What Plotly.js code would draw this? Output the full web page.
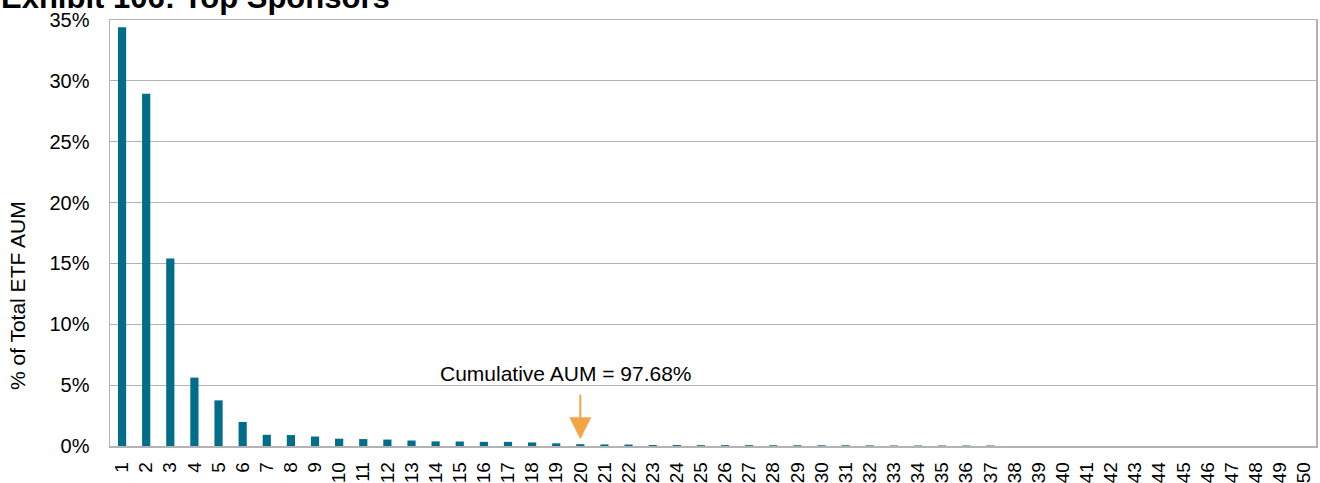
<!DOCTYPE html>
<html>
<head>
<meta charset="utf-8">
<script src="https://cdn.plot.ly/plotly-3.0.1.min.js"></script>
<style>html,body{margin:0;padding:0;background:#fff;}#chart{width:1320px;height:483px;}</style>
</head>
<body>
<div id="chart"></div>
<script>
const ranks = [1,2,3,4,5,6,7,8,9,10,11,12,13,14,15,16,17,18,19,20,21,22,23,24,25,26,27,28,29,30,31,32,33,34,35,36,37,38,39,40,41,42,43,44,45,46,47,48,49,50];
const tickLabels = ranks.map(String);
const sharePct = [34.4,28.95,15.4,5.62,3.75,1.97,0.92,0.9,0.78,0.6,0.57,0.53,0.45,0.38,0.37,0.34,0.34,0.29,0.22,0.15,
  0.13,0.12,0.08,0.08,0.07,0.07,0.07,0.06,0.06,0.06,0.06,0.05,0.04,0.04,0.04,0.04,0.04,0,0,0,0,0,0,0,0,0,0,0,0,0];
const yTicks = [0,5,10,15,20,25,30,35];
const yTickLabels = ['0%','5%','10%','15%','20%','25%','30%','35%'];
const arrowRank = 20;
const noteText = 'Cumulative AUM = 97.68%';
const titleText = 'Exhibit 106: Top Sponsors';
const yTitleText = '% of Total ETF AUM';

const font = 'Arial, "Liberation Sans", sans-serif';
const grid = '#b3b3b3';

Plotly.newPlot('chart', [{
  type: 'bar',
  x: ranks,
  y: sharePct,
  marker: {color: '#006e8a'},
  width: 0.34,
  hoverinfo: 'skip'
}], {
  width: 1320, height: 483,
  margin: {l: 110, r: 4, t: 20, b: 37, pad: 0},
  paper_bgcolor: '#fff', plot_bgcolor: '#fff',
  showlegend: false,
  font: {family: font, size: 20, color: '#000'},
  xaxis: {
    range: [0.5, 50.5], tickvals: ranks, ticktext: tickLabels, tickangle: -90,
    ticks: 'outside', ticklen: 7, tickcolor: 'rgba(0,0,0,0)',
    showgrid: false, zeroline: false,
    showline: true, linecolor: grid, linewidth: 1.5, mirror: true,
    tickfont: {family: font, size: 19, color: '#000'}, fixedrange: true
  },
  yaxis: {
    range: [0, 35], tickvals: yTicks, ticktext: yTickLabels,
    showgrid: true, gridcolor: grid, gridwidth: 1.2, zeroline: false,
    showline: true, linecolor: grid, linewidth: 1.5, mirror: true,
    ticks: 'outside', ticklen: 15, tickcolor: 'rgba(0,0,0,0)',
    tickfont: {family: font, size: 20, color: '#000'},
    fixedrange: true
  },
  annotations: [
    {x: 0, xref: 'paper', y: 1, yref: 'paper', xshift: -110, yshift: 23, text: '<b>' + titleText + '</b>',
     showarrow: false, font: {family: font, size: 31, color: '#000'}, xanchor: 'left', yanchor: 'middle', borderpad: 0},
    {x: 0, xref: 'paper', y: 0.352, yref: 'paper', xshift: -93, text: yTitleText, textangle: -90,
     showarrow: false, font: {family: font, size: 21, color: '#000'}, xanchor: 'center', yanchor: 'middle'},
    {x: arrowRank, y: 0.55, xref: 'x', yref: 'y', text: '', showarrow: true,
     ax: 0, ay: -46, arrowcolor: '#f5a445', arrowwidth: 2, arrowhead: 2, arrowsize: 2.2},
    {x: arrowRank, y: 5.92, xref: 'x', yref: 'y', xshift: -14, text: noteText, showarrow: false,
     font: {family: font, size: 21, color: '#000'}, xanchor: 'center', yanchor: 'middle'}
  ]
}, {staticPlot: true});
</script>
</body>
</html>
